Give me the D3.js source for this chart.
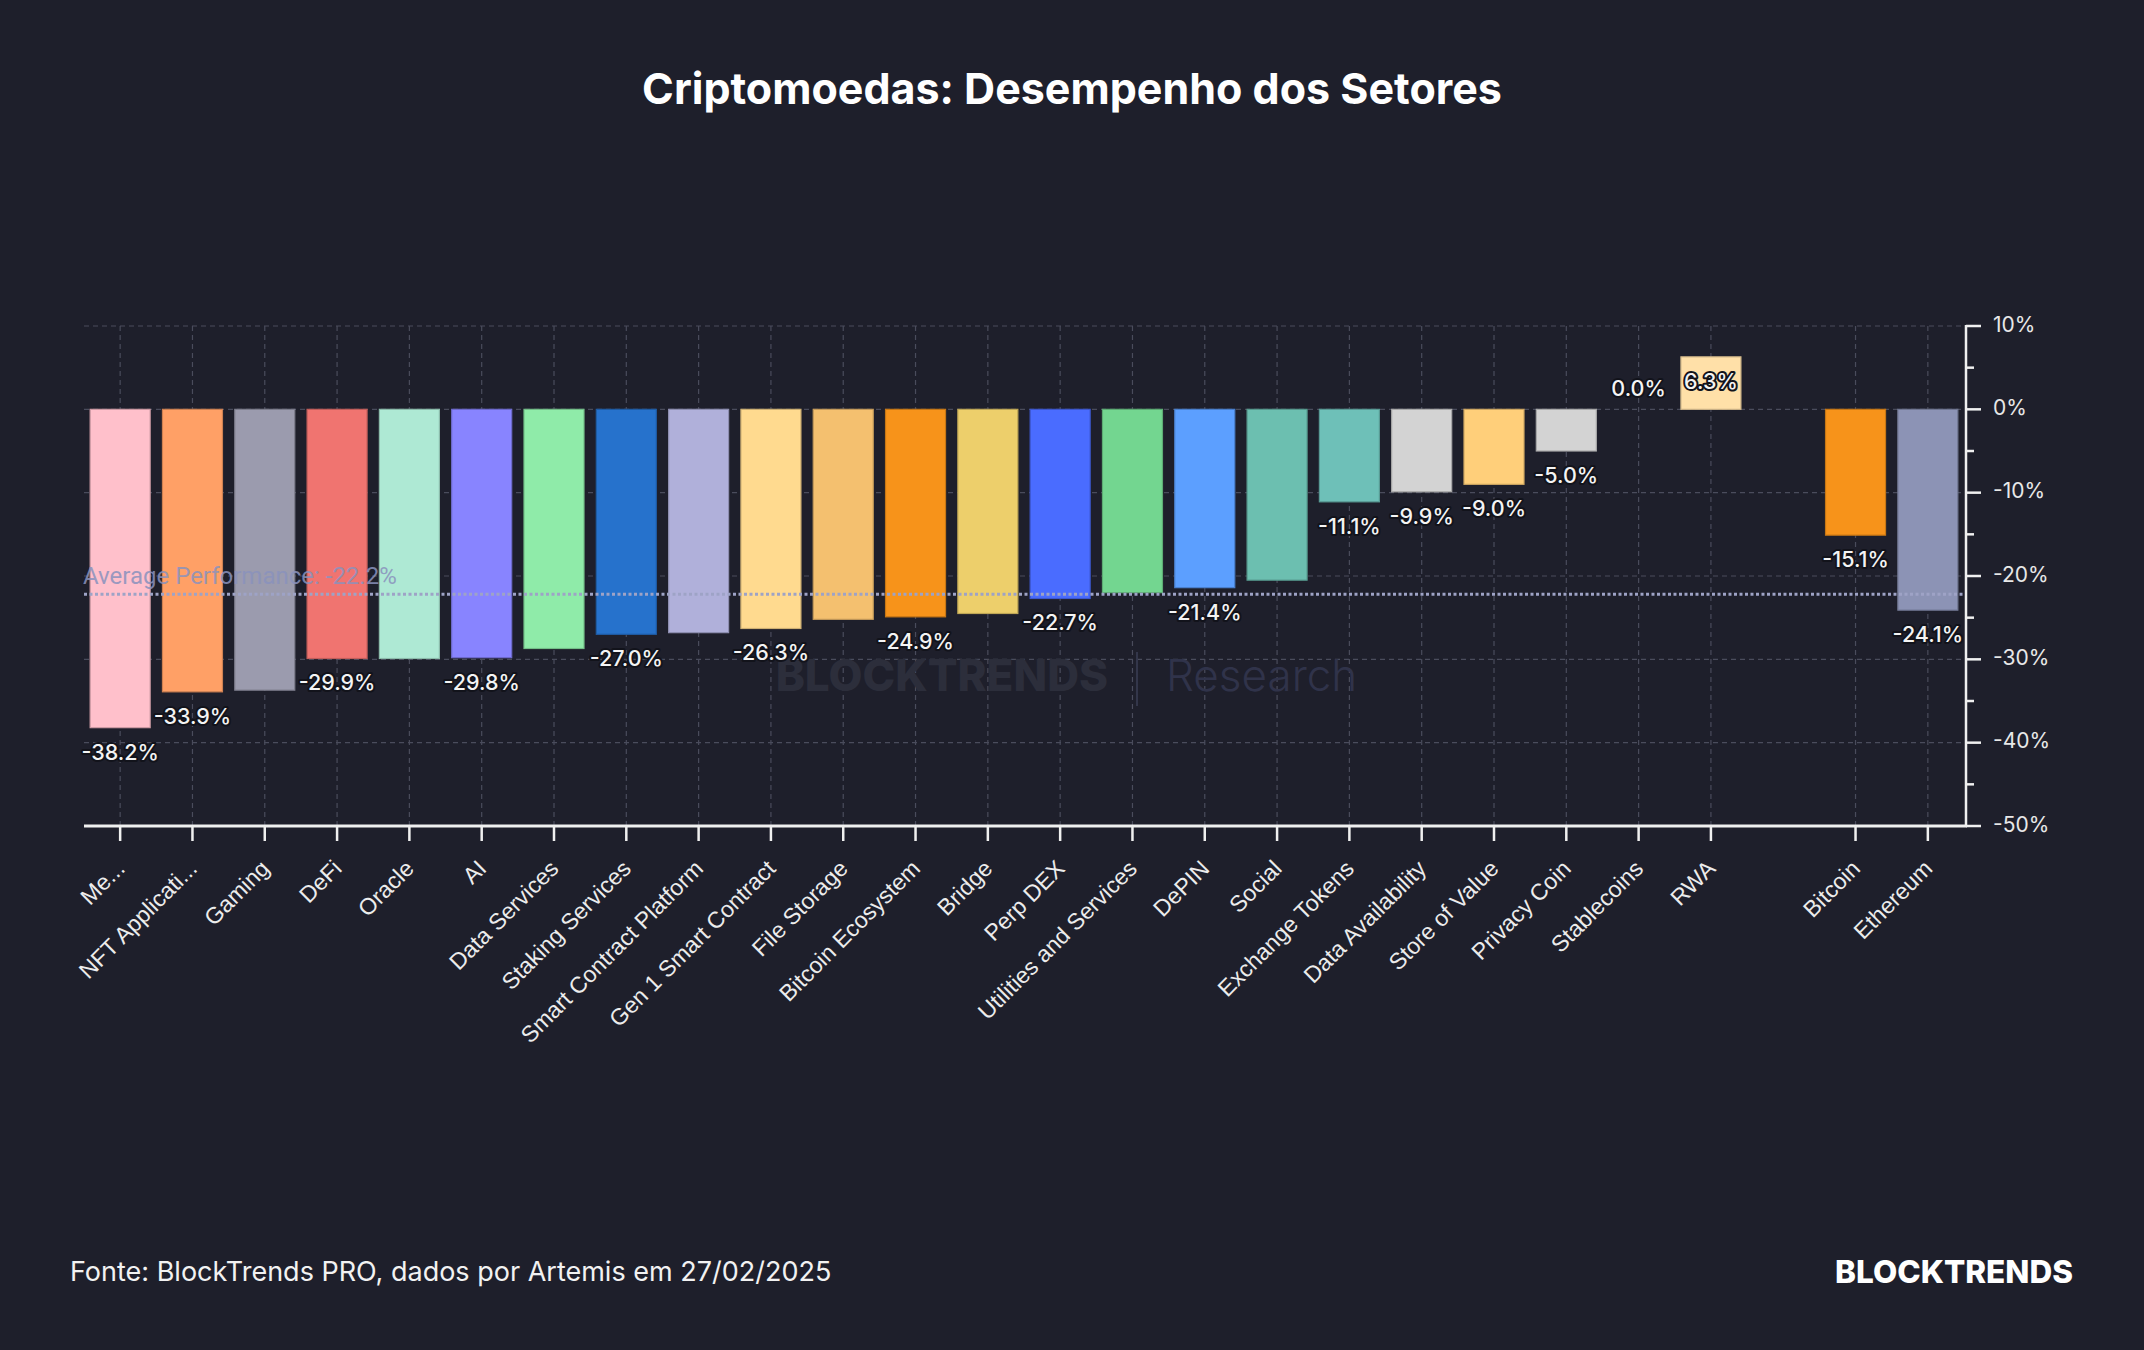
<!DOCTYPE html>
<html>
<head>
<meta charset="utf-8">
<script src="https://cdn.jsdelivr.net/npm/d3@7"></script>
<style>
  html, body { margin: 0; padding: 0; background: #1e1f2b; }
  svg { display: block; }
</style>
</head>
<body>
<svg id="chart" width="2144" height="1350"></svg>
<script>
// sector data, blank slot between RWA and Bitcoin
const sectors = ['Me...', 'NFT Applicati...', 'Gaming', 'DeFi', 'Oracle', 'AI', 'Data Services',
  'Staking Services', 'Smart Contract Platform', 'Gen 1 Smart Contract', 'File Storage',
  'Bitcoin Ecosystem', 'Bridge', 'Perp DEX', 'Utilities and Services', 'DePIN', 'Social',
  'Exchange Tokens', 'Data Availability', 'Store of Value', 'Privacy Coin', 'Stablecoins', 'RWA',
  '__gap__', 'Bitcoin', 'Ethereum'];
const performance = [-38.2, -33.9, -33.7, -29.9, -29.9, -29.8, -28.7, -27.0, -26.8, -26.3, -25.2,
  -24.9, -24.5, -22.7, -22.0, -21.4, -20.5, -11.1, -9.9, -9.0, -5.0, 0.0, 6.3, null, -15.1, -24.1];
const barColors = ['#ffc0cb', '#ffa066', '#9b9bae', '#f07470', '#aee9d4', '#8884ff', '#8feba9',
  '#2672cc', '#b0b0da', '#ffda8f', '#f4c06f', '#f7931a', '#edcf6b', '#4a6cff', '#73d690',
  '#5c9fff', '#6cbfb0', '#6ec0b8', '#d3d3d3', '#ffcf7a', '#d3d3d3', '#d3d3d3', '#ffe0a8',
  null, '#f7931a', '#8c93b5'];
// value labels that the original chart left out
const hiddenLabels = ['Gaming', 'Oracle', 'Data Services', 'Smart Contract Platform', 'File Storage',
  'Bridge', 'Utilities and Services', 'Social'];
const yTicks = [10, 0, -10, -20, -30, -40, -50];
const yMinorTicks = [5, -5, -15, -25, -35, -45];
const averagePerf = -22.2;

const svg = d3.select('#chart');
const bg = '#1e1f2b';
svg.append('rect').attr('width', 2144).attr('height', 1350).attr('fill', bg);

const x = d3.scaleBand().domain(sectors).range([84, 1964]).paddingInner(0.17).paddingOuter(0.085);
const y = d3.scaleLinear().domain([-50, 10]).range([826, 326]);
const cx = (s) => x(s) + x.bandwidth() / 2;
const realSectors = sectors.filter((s) => s !== '__gap__');

// title
svg.append('text')
  .attr('x', 1072).attr('y', 104)
  .attr('text-anchor', 'middle')
  .attr('font-family', 'Inter, sans-serif')
  .attr('font-weight', 700)
  .attr('font-size', 43)
  .attr('fill', '#ffffff')
  .text('Criptomoedas: Desempenho dos Setores');

// grid
const grid = svg.append('g');
grid.selectAll('line.h')
  .data(yTicks.filter((t) => t > -50))
  .enter().append('line')
  .attr('x1', 84).attr('x2', 1966)
  .attr('y1', (d) => y(d)).attr('y2', (d) => y(d))
  .attr('stroke', '#4a4c5c').attr('stroke-width', 1.2)
  .attr('stroke-dasharray', '5,4');
grid.selectAll('line.v')
  .data(realSectors)
  .enter().append('line')
  .attr('x1', (d) => cx(d)).attr('x2', (d) => cx(d))
  .attr('y1', y(10)).attr('y2', y(-50))
  .attr('stroke', '#4a4c5c').attr('stroke-width', 1.2)
  .attr('stroke-dasharray', '5,4');

// watermark
const wm = svg.append('g');
wm.append('text')
  .attr('x', 1108).attr('y', 691)
  .attr('text-anchor', 'end')
  .attr('font-family', 'Inter, sans-serif')
  .attr('font-weight', 800)
  .attr('font-size', 44)
  .attr('fill', '#2c2e3b')
  .text('BLOCKTRENDS');
wm.append('line')
  .attr('x1', 1137).attr('x2', 1137).attr('y1', 652).attr('y2', 706)
  .attr('stroke', '#33364a').attr('stroke-width', 2);
wm.append('text')
  .attr('x', 1166).attr('y', 691)
  .attr('font-family', 'Inter, sans-serif')
  .attr('font-weight', 300)
  .attr('font-size', 44)
  .attr('fill', '#30334a')
  .text('Research');

// bars
const data = sectors.map((s, i) => ({ name: s, value: performance[i], color: barColors[i] }))
  .filter((d) => d.value !== null);

svg.append('g').selectAll('rect')
  .data(data.filter((d) => d.value !== 0))
  .enter().append('rect')
  .attr('x', (d) => x(d.name))
  .attr('width', x.bandwidth())
  .attr('y', (d) => Math.min(y(d.value), y(0)))
  .attr('height', (d) => Math.abs(y(d.value) - y(0)))
  .attr('fill', (d) => d.color)
  .attr('stroke', (d) => d3.color(d.color).darker(0.6))
  .attr('stroke-width', 1.2);

// average line
svg.append('line')
  .attr('x1', 84).attr('x2', 1966)
  .attr('y1', y(averagePerf)).attr('y2', y(averagePerf))
  .attr('stroke', '#9ea3c6').attr('stroke-width', 3)
  .attr('stroke-dasharray', '3,2.5');
svg.append('text')
  .attr('x', 83).attr('y', y(averagePerf) - 10)
  .attr('font-family', 'Roboto, sans-serif')
  .attr('font-size', 24)
  .attr('fill', '#8a92bd')
  .attr('opacity', 0.85)
  .text('Average Performance: ' + averagePerf.toFixed(1) + '%');

// value labels
svg.append('g').selectAll('text')
  .data(data.filter((d) => !hiddenLabels.includes(d.name)))
  .enter().append('text')
  .attr('x', (d) => cx(d.name))
  .attr('y', (d) => d.value === 0 ? y(0) - 19 : y(d.value) + 26)
  .attr('text-anchor', 'middle')
  .attr('dominant-baseline', 'middle')
  .attr('font-family', 'Inter, sans-serif')
  .attr('font-weight', 500)
  .attr('font-size', 21.5)
  .attr('fill', '#f4f4f4')
  .attr('stroke', '#12131b').attr('stroke-width', 4)
  .attr('stroke-linejoin', 'round')
  .attr('paint-order', 'stroke')
  .text((d) => d.value.toFixed(1) + '%');

// x axis
const xAxis = svg.append('g');
xAxis.append('line')
  .attr('x1', 84).attr('x2', 1967)
  .attr('y1', y(-50)).attr('y2', y(-50))
  .attr('stroke', '#f0f0f0').attr('stroke-width', 3);
xAxis.selectAll('line.tick')
  .data(realSectors)
  .enter().append('line')
  .attr('x1', (d) => cx(d)).attr('x2', (d) => cx(d))
  .attr('y1', y(-50)).attr('y2', y(-50) + 15)
  .attr('stroke', '#f0f0f0').attr('stroke-width', 2.5);
xAxis.selectAll('text')
  .data(realSectors)
  .enter().append('text')
  .attr('transform', (d) => 'translate(' + (cx(d) + 6) + ',' + (y(-50) + 44) + ') rotate(-45)')
  .attr('text-anchor', 'end')
  .attr('font-family', '"Liberation Sans", Arial, sans-serif')
  .attr('font-size', 23)
  .attr('fill', '#ececec')
  .text((d) => d);

// y axis on the right
const yAxis = svg.append('g');
yAxis.append('line')
  .attr('x1', 1966).attr('x2', 1966)
  .attr('y1', y(10) - 1).attr('y2', y(-50) + 1)
  .attr('stroke', '#f0f0f0').attr('stroke-width', 2.5);
yAxis.selectAll('line.major')
  .data(yTicks)
  .enter().append('line')
  .attr('x1', 1966).attr('x2', 1981)
  .attr('y1', (d) => y(d)).attr('y2', (d) => y(d))
  .attr('stroke', '#f0f0f0').attr('stroke-width', 2.5);
yAxis.selectAll('line.minor')
  .data(yMinorTicks)
  .enter().append('line')
  .attr('x1', 1966).attr('x2', 1974)
  .attr('y1', (d) => y(d)).attr('y2', (d) => y(d))
  .attr('stroke', '#f0f0f0').attr('stroke-width', 2.5);
yAxis.selectAll('text')
  .data(yTicks)
  .enter().append('text')
  .attr('x', 1993).attr('y', (d) => y(d))
  .attr('dominant-baseline', 'middle')
  .attr('font-family', 'Inter, sans-serif')
  .attr('font-size', 21)
  .attr('fill', '#e8e8e8')
  .text((d) => d + '%');

// footer
svg.append('text')
  .attr('x', 70).attr('y', 1281)
  .attr('font-family', 'Inter, sans-serif')
  .attr('font-size', 27)
  .attr('fill', '#f2f2f2')
  .text('Fonte: BlockTrends PRO, dados por Artemis em 27/02/2025');
svg.append('text')
  .attr('x', 2073).attr('y', 1283)
  .attr('text-anchor', 'end')
  .attr('font-family', 'Inter, sans-serif')
  .attr('font-weight', 800)
  .attr('font-size', 31.5)
  .attr('fill', '#ffffff')
  .text('BLOCKTRENDS');
</script>
</body>
</html>
